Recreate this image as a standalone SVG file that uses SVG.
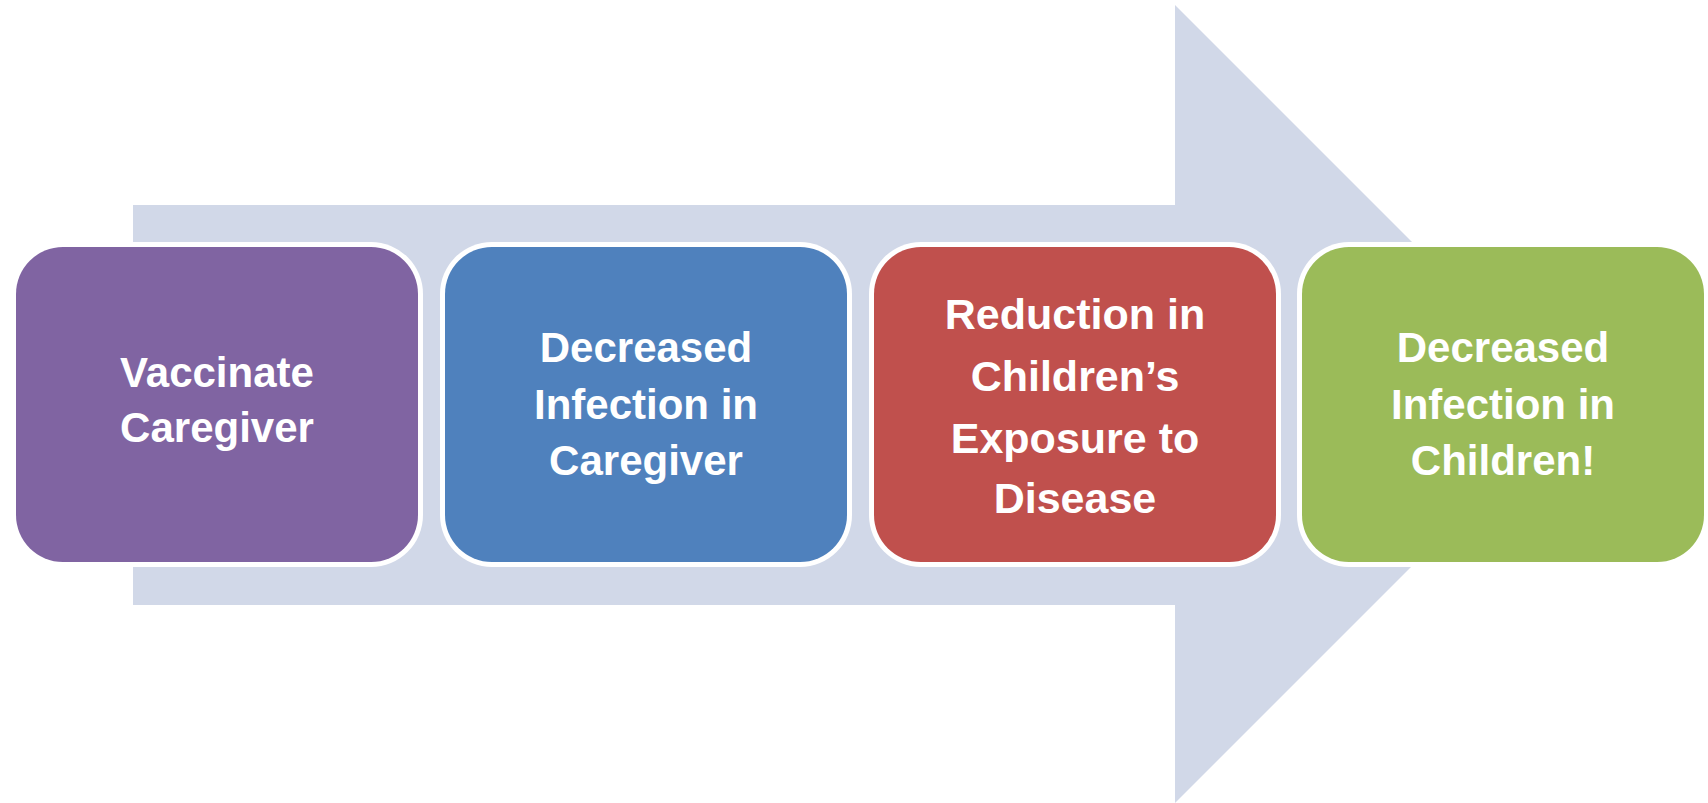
<svg xmlns="http://www.w3.org/2000/svg" width="1708" height="803" viewBox="0 0 1708 803">
  <style>
    .halo { fill: #FFFFFF; }
    .label { font-family: "Liberation Sans", Arial, sans-serif; font-weight: bold; font-size: 42px; fill: #FFFFFF; text-anchor: middle; }
  </style>
  <rect width="1708" height="803" fill="#FFFFFF"/>

  <!-- background process arrow -->
  <g id="connectors">
    <polygon points="133,205 1175,205 1175,5 1574,404 1175,803 1175,605 133,605" fill="#D1D8E8"/>
  </g>

  <g id="step1">
    <rect class="halo" x="11" y="242" width="412" height="325" rx="52"/>
    <rect x="16" y="247" width="402" height="315" rx="47" fill="#8064A2"/>
    <text class="label" x="217" y="387">Vaccinate</text>
    <text class="label" x="217" y="442">Caregiver</text>
  </g>

  <g id="step2">
    <rect class="halo" x="440" y="242" width="412" height="325" rx="52"/>
    <rect x="445" y="247" width="402" height="315" rx="47" fill="#4F81BD"/>
    <text class="label" x="646" y="362">Decreased</text>
    <text class="label" x="646" y="419">Infection in</text>
    <text class="label" x="646" y="475">Caregiver</text>
  </g>

  <g id="step3">
    <rect class="halo" x="869" y="242" width="412" height="325" rx="52"/>
    <rect x="874" y="247" width="402" height="315" rx="47" fill="#C0504D"/>
    <text class="label" x="1075" y="329" style="font-size:43px">Reduction in</text>
    <text class="label" x="1075" y="391" style="font-size:43px">Children’s</text>
    <text class="label" x="1075" y="453" style="font-size:43px">Exposure to</text>
    <text class="label" x="1075" y="513" style="font-size:43px">Disease</text>
  </g>

  <g id="step4">
    <rect class="halo" x="1297" y="242" width="412" height="325" rx="52"/>
    <rect x="1302" y="247" width="402" height="315" rx="47" fill="#9BBB59"/>
    <text class="label" x="1503" y="362">Decreased</text>
    <text class="label" x="1503" y="419">Infection in</text>
    <text class="label" x="1503" y="475">Children!</text>
  </g>
</svg>
